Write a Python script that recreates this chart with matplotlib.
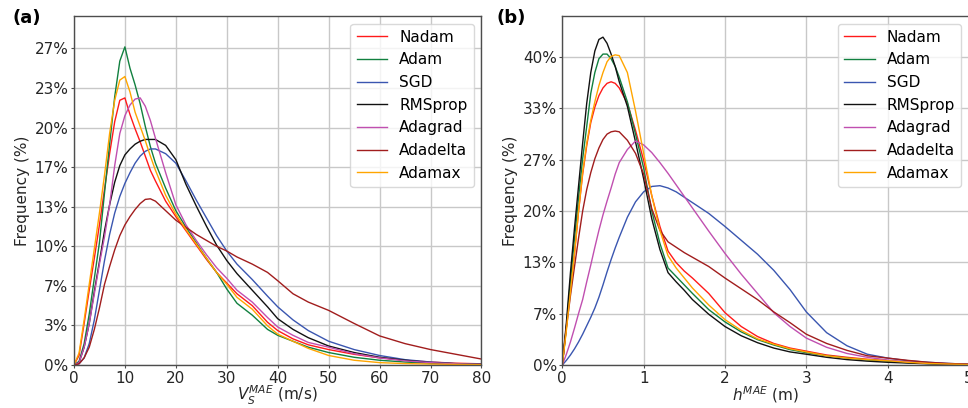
import numpy as np
import matplotlib
matplotlib.use("Agg")
import matplotlib.pyplot as plt
from matplotlib.ticker import FuncFormatter

# --------------------------------------------
# DATA (frequency in %)
# --------------------------------------------
names = ["Nadam", "Adam", "SGD", "RMSprop", "Adagrad", "Adadelta", "Adamax"]
colors = ["#ff1a1a", "#11803f", "#3a56b0", "#111111", "#c04fb0", "#a11d1d", "#ffa500"]

# panel (a): V_S MAE (m/s)
vs_x = [0, 1, 2, 3, 4, 5, 6, 7, 8, 9, 10, 11, 12, 13, 14, 15, 16, 18, 20, 22, 24, 26,
        28, 30, 32, 35, 38, 40, 43, 46, 50, 55, 60, 65, 70, 75, 80]
vs_nadam = [0, 0.8, 3.5, 6.3, 9.0, 11.8, 14.8, 17.8, 20.5, 22.3, 22.5, 21.1, 19.9, 18.8, 17.6,
            16.4, 15.5, 13.8, 12.5, 11.3, 10.1, 8.9, 7.8, 6.9, 6.0, 5.0, 3.6, 2.9, 2.2, 1.7,
            1.3, 0.9, 0.6, 0.4, 0.25, 0.15, 0.1]
vs_adam = [0, 0.3, 1.8, 4.3, 7.3, 10.3, 14.5, 18.6, 22.6, 25.6, 26.8, 25.0, 23.6, 22.0, 20.1,
           18.4, 17.0, 14.9, 13.0, 11.6, 10.3, 9.0, 7.8, 6.4, 5.2, 4.2, 3.0, 2.5, 2.0, 1.5,
           1.05, 0.65, 0.4, 0.25, 0.15, 0.1, 0.05]
vs_sgd = [0, 0.1, 0.6, 1.8, 3.8, 6.3, 8.8, 11.0, 12.8, 14.2, 15.3, 16.2, 17.0, 17.6, 18.0,
          18.2, 18.2, 17.8, 17.0, 15.5, 13.9, 12.4, 10.9, 9.6, 8.5, 7.2, 5.8, 4.9, 3.8, 2.9,
          2.0, 1.3, 0.8, 0.45, 0.25, 0.12, 0.06]
vs_rmsprop = [0, 0.2, 1.5, 3.5, 6.2, 8.7, 11.3, 13.5, 15.4, 16.8, 17.7, 18.2, 18.6, 18.85, 19.0,
              19.0, 19.0, 18.5, 17.3, 15.2, 13.4, 11.7, 10.1, 8.8, 7.7, 6.3, 4.9, 3.9, 3.0, 2.3,
              1.6, 1.05, 0.65, 0.4, 0.2, 0.1, 0.05]
vs_adagrad = [0, 0.2, 1.5, 3.5, 6.0, 8.5, 10.8, 13.5, 16.8, 19.5, 21.0, 21.9, 22.4, 22.5, 21.8,
              20.6, 19.1, 16.2, 13.5, 11.8, 10.5, 9.3, 8.2, 7.3, 6.3, 5.3, 4.0, 3.2, 2.5, 1.9,
              1.5, 0.95, 0.6, 0.35, 0.2, 0.1, 0.05]
vs_adadelta = [0, 0.1, 0.6, 1.5, 3.0, 4.8, 6.8, 8.3, 9.7, 10.9, 11.8, 12.5, 13.1, 13.6, 13.95,
               14.0, 13.8, 13.0, 12.2, 11.6, 11.0, 10.5, 10.0, 9.6, 9.1, 8.5, 7.8, 7.1, 6.0, 5.3,
               4.6, 3.5, 2.45, 1.8, 1.3, 0.9, 0.5]
vs_adamax = [0, 1.0, 3.8, 6.8, 9.8, 12.8, 16.0, 19.5, 22.3, 24.0, 24.3, 23.0, 21.3, 20.1, 18.9,
             17.6, 16.4, 14.3, 12.7, 11.4, 10.2, 9.0, 7.8, 6.8, 5.7, 4.7, 3.3, 2.6, 2.0, 1.4,
             0.8, 0.4, 0.2, 0.12, 0.08, 0.05, 0.03]

# panel (b): h MAE (m)
h_x = [0, 0.05, 0.1, 0.15, 0.2, 0.25, 0.3, 0.35, 0.4, 0.45, 0.5, 0.55, 0.6, 0.65, 0.7, 0.8,
       0.9, 1.0, 1.1, 1.2, 1.3, 1.4, 1.5, 1.6, 1.8, 2.0, 2.2, 2.4, 2.6, 2.8, 3.0, 3.25, 3.5,
       3.75, 4.0, 4.25, 4.5, 4.75, 5.0]
h_nadam = [0, 5.0, 10.0, 14.5, 20.0, 24.8, 28.5, 31.5, 33.5, 35.0, 36.0, 36.6, 36.8, 36.6, 36.0,
           34.0, 30.5, 26.6, 22.0, 18.0, 14.8, 13.3, 12.2, 11.3, 9.3, 6.8, 5.0, 3.7, 2.8, 2.2,
           1.8, 1.3, 1.0, 0.75, 0.55, 0.38, 0.25, 0.15, 0.08]
h_adam = [0, 5.0, 11.0, 16.5, 21.8, 26.8, 31.0, 35.3, 38.0, 39.8, 40.4, 40.4, 39.8, 38.8, 37.4,
          34.2, 30.0, 25.6, 20.0, 15.8, 12.6, 11.5, 10.4, 9.3, 7.2, 5.6, 4.3, 3.3, 2.6, 2.0,
          1.6, 1.2, 0.9, 0.65, 0.5, 0.3, 0.2, 0.1, 0.05]
h_sgd = [0, 0.6, 1.3, 2.1, 3.0, 4.0, 5.1, 6.2, 7.4, 8.8, 10.4, 12.1, 13.7, 15.2, 16.6, 19.2,
         21.2, 22.5, 23.2, 23.3, 23.0, 22.5, 21.8, 21.1, 19.7, 18.0, 16.2, 14.4, 12.3, 9.8,
         6.9, 4.2, 2.5, 1.4, 0.9, 0.55, 0.35, 0.2, 0.1]
h_rmsprop = [0, 5.5, 12.0, 17.8, 23.3, 28.8, 34.0, 38.0, 40.8, 42.3, 42.6, 41.8, 40.4, 38.8, 36.8,
             33.6, 29.0, 24.2, 19.0, 15.0, 12.0, 10.8, 9.7, 8.5, 6.6, 5.0, 3.8, 2.9, 2.2, 1.7,
             1.4, 1.0, 0.7, 0.5, 0.35, 0.25, 0.15, 0.1, 0.05]
h_adagrad = [0, 1.4, 3.0, 4.8, 6.7, 8.5, 10.8, 13.0, 15.3, 17.5, 19.5, 21.3, 23.0, 24.8, 26.3,
             28.0, 29.1, 28.6, 27.6, 26.3, 24.9, 23.4, 21.9, 20.4, 17.4, 14.5, 11.8, 9.3, 6.8,
             5.0, 3.5, 2.3, 1.5, 1.0, 0.65, 0.4, 0.25, 0.15, 0.08]
h_adadelta = [0, 4.8, 9.0, 12.8, 16.5, 20.0, 22.8, 25.0, 26.8, 28.2, 29.3, 30.0, 30.3, 30.4, 30.3,
              29.2, 27.5, 24.8, 20.3, 17.5, 16.0, 15.3, 14.6, 14.0, 12.8, 11.3, 9.9, 8.5, 6.9,
              5.5, 4.0, 2.8, 1.9, 1.2, 0.9, 0.6, 0.35, 0.2, 0.1]
h_adamax = [0, 4.5, 9.5, 14.5, 20.0, 25.0, 28.8, 31.8, 34.2, 36.3, 38.0, 39.4, 40.1, 40.3, 40.2,
            38.0, 33.0, 27.5, 22.0, 17.5, 14.2, 12.6, 11.3, 10.0, 7.8, 5.9, 4.5, 3.4, 2.7, 2.1,
            1.7, 1.2, 0.9, 0.7, 0.55, 0.35, 0.2, 0.12, 0.06]

vs_series = [vs_nadam, vs_adam, vs_sgd, vs_rmsprop, vs_adagrad, vs_adadelta, vs_adamax]
h_series = [h_nadam, h_adam, h_sgd, h_rmsprop, h_adagrad, h_adadelta, h_adamax]

# --------------------------------------------
# PLOT
# --------------------------------------------
plt.rcParams["font.family"] = "DejaVu Sans"
plt.rcParams["font.size"] = 11

fig = plt.figure(figsize=(9.68, 4.08), dpi=100)
ax_a = fig.add_axes([0.0764, 0.1054, 0.4210, 0.8554])
ax_b = fig.add_axes([0.5809, 0.1054, 0.4201, 0.8554])

pct = FuncFormatter(lambda v, pos: "%.0f%%" % v)


def style_axis(ax, xs, series, xlim, ylim, ystep, xticks, xlabel):
    for ys, name, c in zip(series, names, colors):
        ax.plot(xs, ys, color=c, lw=1.0, label=name)
    ax.set_xlim(*xlim)
    ax.set_ylim(*ylim)
    ax.set_xticks(xticks)
    ax.set_yticks(np.arange(0, ylim[1], ystep))
    ax.yaxis.set_major_formatter(pct)
    ax.grid(True, color="#c8c8c8", lw=1.0)
    ax.set_axisbelow(True)
    ax.tick_params(length=2, width=0.8, pad=2, colors="0.3", labelcolor="0.15", labelsize=11)
    for sp in ax.spines.values():
        sp.set_color("0.3")
        sp.set_linewidth(1.0)
    ax.set_xlabel(xlabel, fontsize=11, color="0.15", labelpad=-1)
    ax.set_ylabel("Frequency (%)", fontsize=11, color="0.15", labelpad=3)
    ax.legend(loc="upper right", fontsize=11, labelspacing=0.5, borderaxespad=0.5,
              handlelength=2.0, edgecolor="#d0d0d0")


style_axis(ax_a, vs_x, vs_series, (0, 80), (0, 29.4), 10 / 3, range(0, 81, 10),
           "$V_S^{MAE}$ (m/s)")
style_axis(ax_b, h_x, h_series, (0, 5), (0, 45.35), 20 / 3, range(0, 6),
           "$h^{MAE}$ (m)")

fig.text(0.013, 0.955, "(a)", fontsize=13, fontweight="bold", va="center")
fig.text(0.513, 0.955, "(b)", fontsize=13, fontweight="bold", va="center")

fig.savefig("out.png", dpi=100)
